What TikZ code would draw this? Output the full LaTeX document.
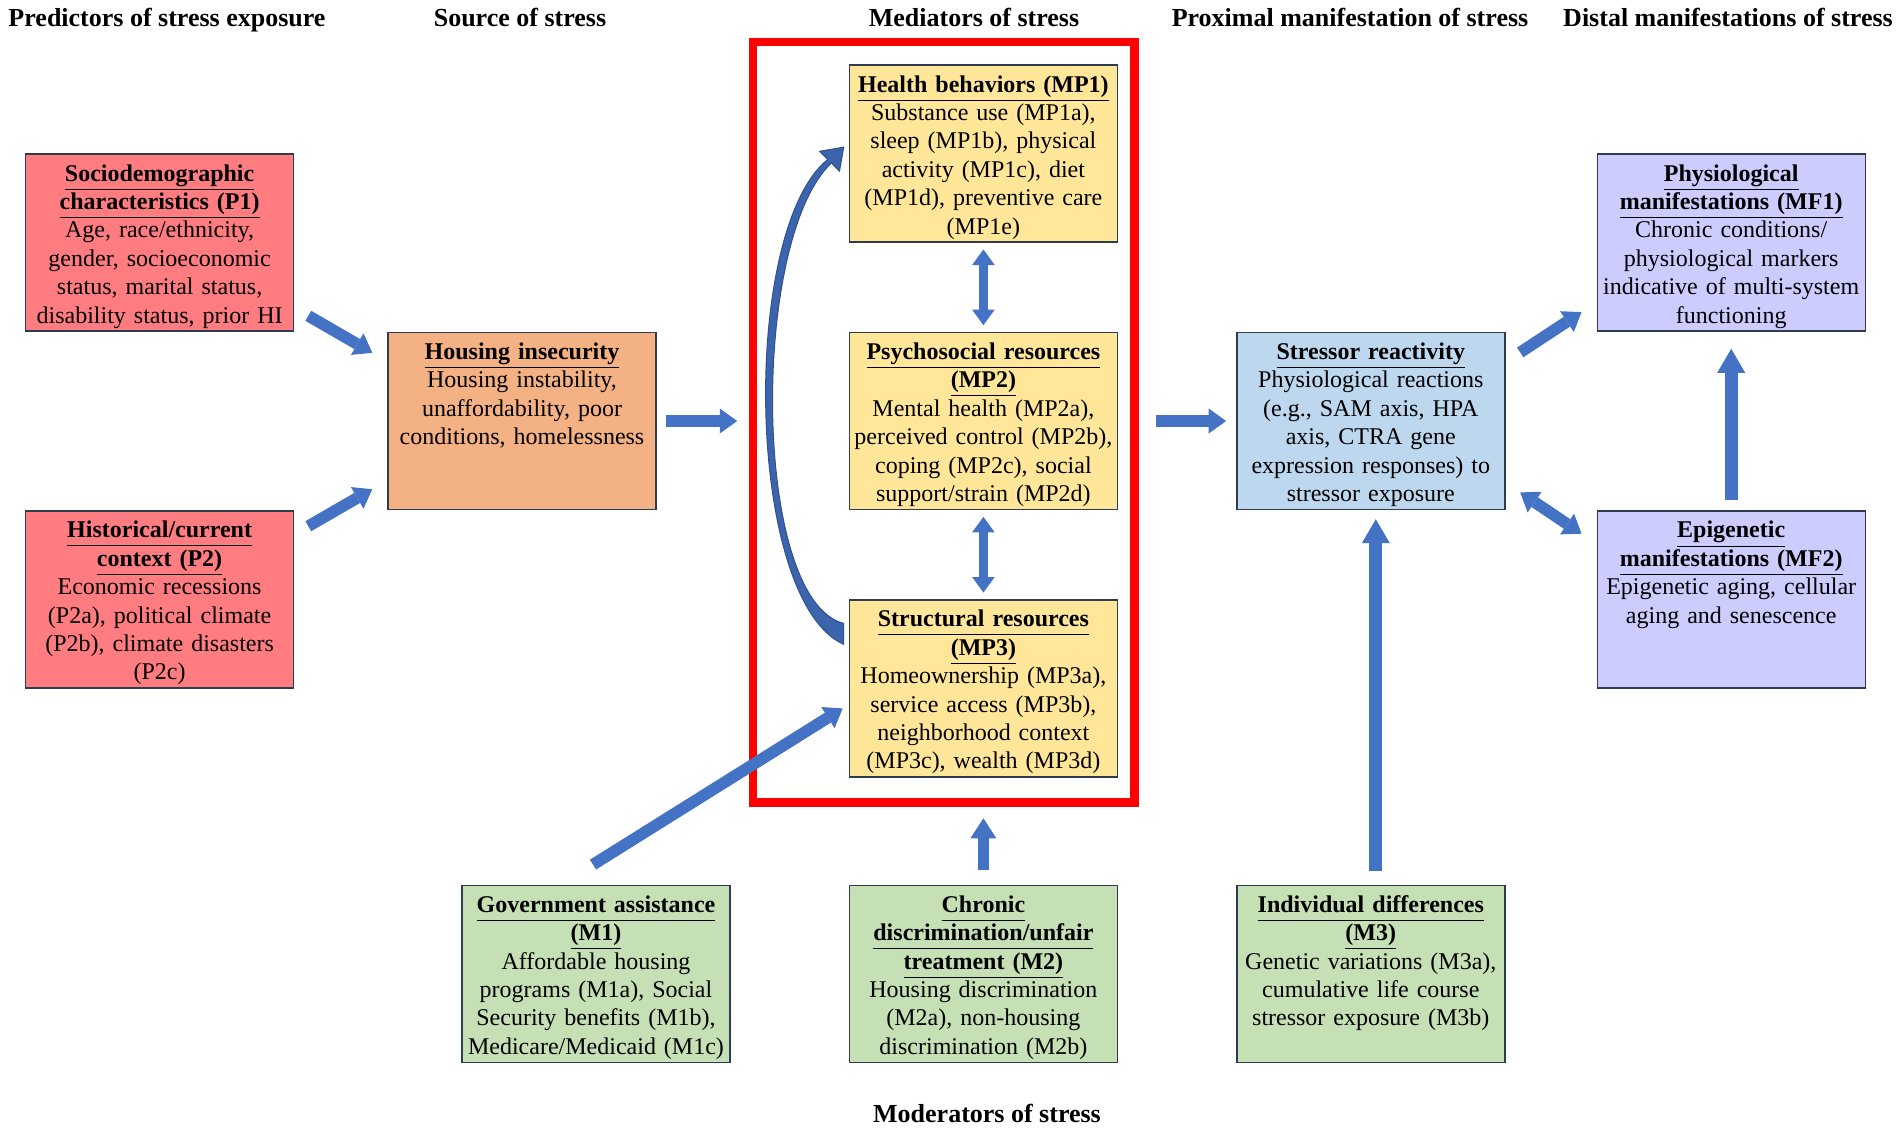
\documentclass[tikz,border=0pt]{standalone}
\usepackage{fontspec}
\setmainfont{Liberation Serif}
\usetikzlibrary{positioning,arrows.meta,calc,fit}
\definecolor{predred}{HTML}{FF7C80}
\definecolor{srcorange}{HTML}{F4B183}
\definecolor{medyellow}{HTML}{FFE699}
\definecolor{proxblue}{HTML}{BDD7EE}
\definecolor{distpurple}{HTML}{CCCCFF}
\definecolor{modgreen}{HTML}{C5E0B4}
\definecolor{boxline}{HTML}{2F3B4F}
\definecolor{arrblue}{HTML}{4472C4}
\definecolor{arrline}{HTML}{2F528F}
\newcommand{\hd}[1]{\underline{\textbf{#1}\vphantom{gjpqy(}}}

\begin{document}
\begin{tikzpicture}[x=0.5pt,y=-0.5pt]
\tikzstyle{sbox}=[draw=boxline, line width=0.7pt, text width=134pt, align=center, inner sep=0pt, minimum width=134pt, minimum height=88.5pt, text height=13.5pt, text depth=75pt, font=\fontsize{12pt}{14.2pt}\selectfont]
\tikzstyle{ttl}=[anchor=base, inner sep=0pt, font=\fontsize{13pt}{15pt}\selectfont\bfseries]
\tikzstyle{blk}=[draw=arrblue, line width=5.8pt, -{Triangle[width=12.5pt,length=8.7pt,line width=0pt]}]
\tikzstyle{blkdbl}=[draw=arrblue, line width=4.9pt, {Triangle[width=11.3pt,length=7.8pt,line width=0pt]}-{Triangle[width=11.3pt,length=7.8pt,line width=0pt]}]
\tikzstyle{blklong}=[draw=arrblue, line width=6.5pt, -{Triangle[width=14pt,length=12pt,line width=0pt]}]
\tikzstyle{redframe}=[draw=red, line width=4.2pt, inner sep=0pt]
\useasboundingbox (0,0) rectangle (1902,1131);

% column headings
\node[ttl] (tP)  at (167,26)  {Predictors of stress exposure};
\node[ttl] (tS)  at (520,26)  {Source of stress};
\node[ttl] (tM)  at (974,26)  {Mediators of stress};
\node[ttl] (tPr) at (1350,26) {Proximal manifestation of stress};
\node[ttl] (tD)  at (1728,26) {Distal manifestations of stress};
\node[ttl] (tMo) at (987,1122) {Moderators of stress};

% boxes
\node[sbox, fill=srcorange] (HI) at (522,421) {\hd{Housing insecurity}\\Housing instability,\\unaffordability, poor\\conditions, homelessness};
\node[sbox, fill=predred, above left=0pt and 46.5pt of HI] (P1) {\hd{Sociodemographic}\\\hd{characteristics (P1)}\\Age, race/ethnicity,\\gender, socioeconomic\\status, marital status,\\disability status, prior HI};
\node[sbox, fill=predred, below left=0pt and 46.5pt of HI] (P2) {\hd{Historical/current}\\\hd{context (P2)}\\Economic recessions\\(P2a), political climate\\(P2b), climate disasters\\(P2c)};
\node[sbox, fill=medyellow, right=96pt of HI] (MP2) {\hd{Psychosocial resources}\\\hd{(MP2)}\\Mental health (MP2a),\\perceived control (MP2b),\\coping (MP2c), social\\support/strain (MP2d)};
\node[sbox, fill=medyellow, above=44.5pt of MP2] (MP1) {\hd{Health behaviors (MP1)}\\Substance use (MP1a),\\sleep (MP1b), physical\\activity (MP1c), diet\\(MP1d), preventive care\\(MP1e)};
\node[sbox, fill=medyellow, below=44.5pt of MP2] (MP3) {\hd{Structural resources}\\\hd{(MP3)}\\Homeownership (MP3a),\\service access (MP3b),\\neighborhood context\\(MP3c), wealth (MP3d)};
\node[sbox, fill=proxblue, right=59pt of MP2] (SR) {\hd{Stressor reactivity}\\Physiological reactions\\(e.g., SAM axis, HPA\\axis, CTRA gene\\expression responses) to\\stressor exposure};
\node[sbox, fill=distpurple, above right=0pt and 45.5pt of SR] (MF1) {\hd{Physiological}\\\hd{manifestations (MF1)}\\Chronic conditions/\\physiological markers\\indicative of multi-system\\functioning};
\node[sbox, fill=distpurple, below right=0pt and 45.5pt of SR] (MF2) {\hd{Epigenetic}\\\hd{manifestations (MF2)}\\Epigenetic aging, cellular\\aging and senescence};
\node[sbox, fill=modgreen, below=53.5pt of MP3] (M2) {\hd{Chronic}\\\hd{discrimination/unfair}\\\hd{treatment (M2)}\\Housing discrimination\\(M2a), non-housing\\discrimination (M2b)};
\node[sbox, fill=modgreen, left=59pt of M2] (M1) {\hd{Government assistance}\\\hd{(M1)}\\Affordable housing\\programs (M1a), Social\\Security benefits (M1b),\\Medicare/Medicaid (M1c)};
\node[sbox, fill=modgreen, right=59pt of M2] (M3) {\hd{Individual differences}\\\hd{(M3)}\\Genetic variations (M3a),\\cumulative life course\\stressor exposure (M3b)};

% red frame round the mediators
\node[redframe, fit={([shift={(-95.5,-22.4)}]MP1.north west) ([shift={(16.5,24.7)}]MP3.south east)}] (MED) {};

% arrows
\draw[blk] ([shift={(14,-16)}]P1.south east) -- ([shift={(-15,21)}]HI.north west);
\draw[blk] ([shift={(14,16)}]P2.north east) -- ([shift={(-15,-21)}]HI.south west);
\draw[blk, shorten <=4.5pt, shorten >=5.9pt] (HI.east) -- (HI.east -| MED.west);
\draw[blk, shorten <=8.7pt, shorten >=5pt] (SR.west -| MED.east) -- (SR.west);
\foreach \a/\b in {MP1/MP2, MP2/MP3}{\draw[blkdbl, shorten <=3.3pt, shorten >=3.3pt] (\a.south) -- (\b.north);}
\draw[blk] ([shift={(-3,-20)}]M1.north) -- ([shift={(-6,20)}]MP3.west);
\draw[blk, -{Triangle[width=13pt,length=10pt,line width=0pt]}, shorten <=7.5pt, shorten >=5.9pt] (M2.north) -- (M2.north |- MED.south);
\draw[blklong, shorten <=7pt, shorten >=4.5pt] ([xshift=2.5pt]M3.north) -- ([xshift=2.5pt]SR.south);
\draw[blk] ([shift={(14.7,20.6)}]SR.north east) -- ([shift={(-15,-19.7)}]MF1.south west);
\draw[blk, {Triangle[width=12.5pt,length=8.7pt,line width=0pt]}-{Triangle[width=12.5pt,length=8.7pt,line width=0pt]}] ([shift={(14.7,-17.8)}]SR.south east) -- ([shift={(-15,23.5)}]MF2.north west);
\draw[blklong, shorten <=5pt, shorten >=8.5pt] (MF2.north) -- (MF1.south);

% curved arrow from structural resources to health behaviors
\coordinate (cb1) at ([shift={(-5,-44)}]MP3.west);
\coordinate (cb2) at ([shift={(-5,-65)}]MP3.west);
\coordinate (ct) at ([shift={(-5,-6.5)}]MP1.west);
\filldraw[draw=arrline, fill=arrline!45!arrblue, line width=0.5pt] (cb1) .. controls (745,600) and (740,230) .. ($(ct)+(-15.9,12.3)$) -- ($(ct)+(-24,4.2)$) -- (ct) -- ($(ct)+(-4.2,24)$) -- ($(ct)+(-12.3,15.9)$) .. controls (750,240) and (752,600) .. (cb2) -- cycle;
\end{tikzpicture}
\end{document}
